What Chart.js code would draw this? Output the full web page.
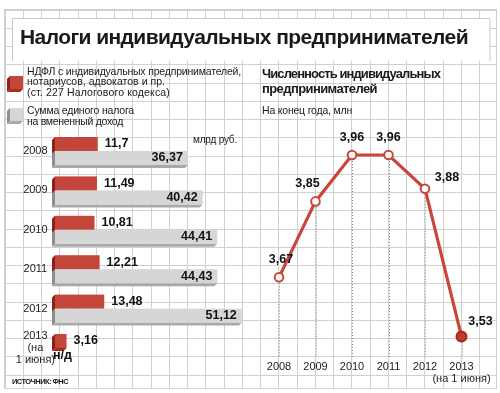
<!DOCTYPE html>
<html><head><meta charset="utf-8">
<script src="https://cdn.jsdelivr.net/npm/chart.js@4"></script>
<style>
html,body{margin:0;padding:0;background:#fff;}
#wrap{position:relative;width:500px;height:393px;overflow:hidden;}
canvas{position:absolute;left:0;top:0;}
.t{position:absolute;white-space:nowrap;color:#1a1a1a;font-family:'Liberation Sans Narrow','Liberation Sans',Arial,sans-serif;}
</style></head><body>
<div id="wrap">
<canvas id="bg" width="500" height="393"></canvas>
<canvas id="bars" width="500" height="393"></canvas>
<canvas id="line" width="500" height="393"></canvas>
<div class="t" id="title" style="left:20px;top:24px;font-size:21px;line-height:25px;font-weight:bold;font-family:'Liberation Sans',Arial,sans-serif" data-w="448">Налоги индивидуальных предпринимателей</div>
<div class="t" style="left:27px;top:65px;font-size:10.5px;line-height:12px" data-w="214">НДФЛ с индивидуальных предпринимателей,</div>
<div class="t" style="left:27px;top:75px;font-size:10.5px;line-height:12px" data-w="138">нотариусов, адвокатов и пр.</div>
<div class="t" style="left:27px;top:86px;font-size:10.5px;line-height:12px" data-w="143">(ст. 227 Налогового кодекса)</div>
<div class="t" style="left:27px;top:103.5px;font-size:10.5px;line-height:12px" data-w="107">Сумма единого налога</div>
<div class="t" style="left:27px;top:114.5px;font-size:10.5px;line-height:12px" data-w="96">на вмененный доход</div>
<div class="t" style="left:262px;top:65.5px;font-size:13px;line-height:15px;font-weight:bold;font-family:'Liberation Sans',Arial,sans-serif" data-w="178">Численность индивидуальных</div>
<div class="t" style="left:262px;top:80.5px;font-size:13px;line-height:15px;font-weight:bold;font-family:'Liberation Sans',Arial,sans-serif" data-w="115">предпринимателей</div>
<div class="t" style="left:262px;top:103.5px;font-size:10.5px;line-height:12px" data-w="90">На конец года, млн</div>
<div class="t" style="left:193px;top:134px;font-size:10px;line-height:12px" data-w="44">млрд руб.</div>
<div class="t" style="left:12px;top:377px;font-size:7.5px;line-height:10px;font-weight:bold" data-w="56">ИСТОЧНИК: ФНС</div>
</div>
<script>
// ---------- data ----------
const barYears = ['2008', '2009', '2010', '2011', '2012', ['2013', '(на', '1 июня)']];
const ndflValues = [11.7, 11.49, 10.81, 12.21, 13.48, 3.16];
const envdValues = [36.37, 40.42, 44.41, 44.43, 51.12, null];
const lineYears = ['2008', '2009', '2010', '2011', '2012', ['2013', '(на 1 июня)']];
const entrepreneurs = [3.67, 3.85, 3.96, 3.96, 3.88, 3.53];
const missingLabel = 'н/д';

// ---------- styles ----------
const RED = {face: '#c4463a', side: '#8c211b', bottom: '#a02c24'};
const GRAY = {face: '#d6d6d6', side: '#8e8e8e', bottom: '#a9a9a9'};
const LINE_RED = '#c9473a';
const DEPTH = 3;
const lineLabelOffsets = [[2, -18], [-8, -18], [0, -17], [0, -17], [22, -11], [19, -15]];

// fit text widths
document.querySelectorAll('.t[data-w]').forEach(el => {
  const target = +el.dataset.w;
  const w = el.getBoundingClientRect().width;
  const n = el.textContent.length;
  el.style.letterSpacing = ((target - w) / n).toFixed(3) + 'px';
});

// ---------- background grid ----------
const g = document.getElementById('bg').getContext('2d');
g.fillStyle = '#fff'; g.fillRect(0, 0, 500, 393);
g.strokeStyle = '#d0d0d0'; g.lineWidth = 1;
const gx0 = 4.5, gx1 = 496.5, gy0 = 9.5, gy1 = 388.5, step = 18.25;
g.beginPath();
for (let x = gx0; x <= gx1 + 0.5; x += step) { const p = Math.round(x) + 0.5; g.moveTo(p, gy0); g.lineTo(p, gy1); }
for (let y = gy0; y <= gy1; y += step) { const p = Math.round(y) + 0.5; g.moveTo(gx0, p); g.lineTo(gx1, p); }
g.stroke();
g.strokeRect(gx0, gy0, gx1 - gx0, gy1 - gy0);
// title box
g.fillStyle = '#fff'; g.fillRect(12.5, 18.5, 477.5, 42);
g.strokeStyle = '#c8c8c8';
g.beginPath(); g.moveTo(12.5, 61); g.lineTo(12.5, 18.5); g.lineTo(490, 18.5); g.lineTo(490, 61); g.stroke();

function drawBox(ctx, left, top, right, bottom, col) {
  ctx.fillStyle = col.side;
  ctx.beginPath(); ctx.moveTo(left, top); ctx.lineTo(left - DEPTH, top + DEPTH); ctx.lineTo(left - DEPTH, bottom + DEPTH); ctx.lineTo(left, bottom); ctx.closePath(); ctx.fill();
  ctx.fillStyle = col.bottom;
  ctx.beginPath(); ctx.moveTo(left, bottom); ctx.lineTo(left - DEPTH, bottom + DEPTH); ctx.lineTo(right - DEPTH, bottom + DEPTH); ctx.lineTo(right, bottom); ctx.closePath(); ctx.fill();
  ctx.fillStyle = col.face; ctx.fillRect(left, top, right - left, bottom - top);
}
// legend swatches
drawBox(g, 10, 76, 23, 89, RED);
drawBox(g, 10, 108, 23, 121, GRAY);

const fmt = v => String(v).replace('.', ',');
const NUMFONT = "bold 12.5px 'Liberation Sans', Arial, sans-serif";

// ---------- bar chart ----------
const bar3d = {
  id: 'bar3d',
  beforeDatasetsDraw(chart) {
    const ctx = chart.ctx;
    chart.data.datasets.forEach((ds, di) => {
      const meta = chart.getDatasetMeta(di);
      const col = di === 0 ? RED : GRAY;
      meta.data.forEach((el, i) => {
        if (ds.data[i] == null) return;
        const h = el.height;
        drawBox(ctx, el.base, el.y - h / 2, el.x, el.y + h / 2, col);
      });
    });
  },
  afterDatasetsDraw(chart) {
    const ctx = chart.ctx;
    ctx.save();
    ctx.font = NUMFONT; ctx.fillStyle = '#111'; ctx.textBaseline = 'middle';
    const m0 = chart.getDatasetMeta(0), m1 = chart.getDatasetMeta(1);
    const dy = m1.data[0].y - m0.data[0].y;
    chart.data.datasets.forEach((ds, di) => {
      const meta = chart.getDatasetMeta(di);
      meta.data.forEach((el, i) => {
        const v = ds.data[i];
        if (v == null) {
          ctx.textAlign = 'left';
          ctx.fillText(missingLabel, chart.scales.x.getPixelForValue(0) - 2, m0.data[i].y + dy + 1);
          return;
        }
        if (di === 0) { ctx.textAlign = 'left'; ctx.fillText(fmt(v), el.x + 7, el.y); }
        else { ctx.textAlign = 'right'; ctx.fillText(fmt(v), el.x - 5, el.y); }
      });
    });
    ctx.restore();
  }
};

new Chart(document.getElementById('bars'), {
  type: 'bar',
  data: {
    labels: barYears,
    datasets: [
      {data: ndflValues, backgroundColor: 'rgba(0,0,0,0)'},
      {data: envdValues, backgroundColor: 'rgba(0,0,0,0)'}
    ]
  },
  options: {
    indexAxis: 'y', responsive: false, animation: false, devicePixelRatio: 1,
    layout: {padding: {left: 0, right: 255, top: 131.3, bottom: 25.3}},
    plugins: {legend: {display: false}, tooltip: {enabled: false}},
    datasets: {bar: {barThickness: 14, categoryPercentage: 0.8, barPercentage: 1}},
    scales: {
      x: {display: false, min: 0, max: 52},
      y: {
        grid: {display: false, drawTicks: false}, border: {display: false},
        afterFit: s => { s.width = 55; },
        ticks: {padding: 0, crossAlign: 'center', color: '#222', font: {family: "'Liberation Sans Narrow','Liberation Sans', Arial, sans-serif", size: 11, lineHeight: 1.05}}
      }
    }
  },
  plugins: [bar3d]
});

// ---------- line chart ----------
const lineDeco = {
  id: 'lineDeco',
  beforeDatasetsDraw(chart) {
    const ctx = chart.ctx, meta = chart.getDatasetMeta(0);
    ctx.save();
    ctx.strokeStyle = '#8a8a8a'; ctx.lineWidth = 1; ctx.setLineDash([1, 2]);
    meta.data.forEach(pt => {
      const x = Math.round(pt.x) + 0.5;
      ctx.beginPath(); ctx.moveTo(x, pt.y); ctx.lineTo(x, chart.chartArea.bottom); ctx.stroke();
    });
    ctx.restore();
  },
  afterDatasetsDraw(chart) {
    const ctx = chart.ctx, meta = chart.getDatasetMeta(0);
    ctx.save();
    ctx.font = NUMFONT; ctx.fillStyle = '#111'; ctx.textAlign = 'center'; ctx.textBaseline = 'middle';
    meta.data.forEach((pt, i) => {
      const o = lineLabelOffsets[i];
      ctx.fillText(fmt(chart.data.datasets[0].data[i]), pt.x + o[0], pt.y + o[1]);
    });
    ctx.restore();
  }
};

new Chart(document.getElementById('line'), {
  type: 'line',
  data: {
    labels: lineYears,
    datasets: [{
      data: entrepreneurs,
      borderColor: LINE_RED, borderWidth: 3.2,
      pointRadius: entrepreneurs.map((v, i) => i === entrepreneurs.length - 1 ? 5 : 4.3),
      pointBorderWidth: 2,
      pointBorderColor: entrepreneurs.map((v, i) => i === entrepreneurs.length - 1 ? '#a8281f' : LINE_RED),
      pointBackgroundColor: entrepreneurs.map((v, i) => i === entrepreneurs.length - 1 ? '#c23a2e' : '#ffffff'),
      tension: 0
    }]
  },
  options: {
    responsive: false, animation: false, devicePixelRatio: 1,
    layout: {padding: {left: 260.75, right: 20.25, top: 138.1, bottom: 3.5}},
    plugins: {legend: {display: false}, tooltip: {enabled: false}},
    scales: {
      y: {display: false, min: 3.48, max: 4.0},
      x: {
        offset: true,
        grid: {display: false, drawTicks: false}, border: {display: false},
        afterFit: s => { s.height = 32; },
        ticks: {padding: 4, color: '#222', maxRotation: 0, autoSkip: false,
          font: {family: "'Liberation Sans Narrow','Liberation Sans', Arial, sans-serif", size: 11, lineHeight: 1.05}}
      }
    }
  },
  plugins: [lineDeco]
});
</script>
</body></html>
